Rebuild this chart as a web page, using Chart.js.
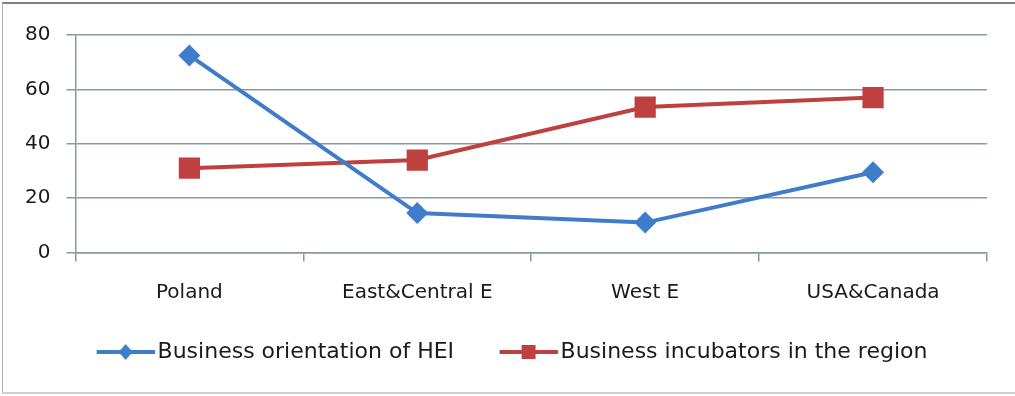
<!DOCTYPE html>
<html>
<head>
<meta charset="utf-8">
<script src="https://cdn.jsdelivr.net/npm/chart.js@4"></script>
<style>
  body { margin: 0; background: #fff; }
  #frame {
    position: absolute; left: 2px; top: 2px;
    width: 1012px; height: 388px;
    border-top: 2px solid #7f7f7f;
    border-left: 1px solid #b0b0b0;
    border-bottom: 2px solid #cfcfcf;
  }
</style>
</head>
<body>
<div id="frame"><canvas id="regionChart"></canvas></div>
<script>
const regions = ['Poland', 'East&Central E', 'West E', 'USA&Canada'];
const heiOrientation = [72.5, 14.5, 11, 29.5];
const incubators = [31, 34, 53.5, 57];
const yTicks = [0, 20, 40, 60, 80];

const blue = '#3f7dcb';
const red = '#c0403f';
const gridColor = '#8799a1';
const textColor = '#1a1a1a';
const fontFamily = '"DejaVu Sans", sans-serif';

// legend icon: line with the series marker in the middle,
// left part of the canvas stays empty to space the items apart
function legendIcon(color, marker) {
    const c = document.createElement('canvas');
    c.width = 94; c.height = 20;
    const ctx = c.getContext('2d');
    ctx.strokeStyle = color;
    ctx.fillStyle = color;
    ctx.lineWidth = 4;
    ctx.beginPath();
    ctx.moveTo(36, 10);
    ctx.lineTo(94, 10);
    ctx.stroke();
    const cx = 65;
    if (marker == 'diamond') {
        ctx.beginPath();
        ctx.moveTo(cx, 2);
        ctx.lineTo(cx + 7, 10);
        ctx.lineTo(cx, 18);
        ctx.lineTo(cx - 7, 10);
        ctx.closePath();
        ctx.fill();
    } else {
        ctx.fillRect(cx - 7, 3, 14, 14);
    }
    return c;
}
const icons = [legendIcon(blue, 'diamond'), legendIcon(red, 'square')];

new Chart(document.getElementById('regionChart'), {
    type: 'line',
    data: {
        labels: regions,
        datasets: [{
            label: 'Business orientation of HEI',
            data: heiOrientation,
            borderColor: blue,
            backgroundColor: blue,
            borderWidth: 4,
            pointStyle: 'rectRot',
            pointRadius: 11,
            pointHoverRadius: 11,
            pointBorderWidth: 0,
            tension: 0
        }, {
            label: 'Business incubators in the region',
            data: incubators,
            borderColor: red,
            backgroundColor: red,
            borderWidth: 4,
            pointStyle: 'rect',
            pointRadius: 15,
            pointHoverRadius: 15,
            pointBorderWidth: 0,
            tension: 0
        }]
    },
    options: {
        responsive: true,
        maintainAspectRatio: false,
        animation: false,
        layout: { padding: { top: 31, left: 6, right: 28, bottom: 19 } },
        scales: {
            x: {
                offset: true,
                grid: { offset: true, drawOnChartArea: false, drawTicks: true, tickLength: 9, color: gridColor, lineWidth: 1.5 },
                border: { display: true, color: gridColor, width: 1.5 },
                ticks: { color: textColor, font: { family: fontFamily, size: 20 }, padding: 19, maxRotation: 0 }
            },
            y: {
                min: 0,
                max: 80,
                afterBuildTicks: function(axis) {
                    axis.ticks = yTicks.map(v => ({ value: v }));
                },
                grid: { color: gridColor, lineWidth: 1.5, tickLength: 9 },
                border: { display: true, color: gridColor, width: 1.5 },
                ticks: { color: textColor, font: { family: fontFamily, size: 20 }, padding: 16 }
            }
        },
        plugins: {
            tooltip: { enabled: false },
            legend: {
                position: 'bottom',
                labels: {
                    usePointStyle: true,
                    pointStyleWidth: 78,
                    padding: 17.5,
                    color: textColor,
                    font: { family: fontFamily, size: 22 },
                    generateLabels: function(chart) {
                        const items = Chart.defaults.plugins.legend.labels.generateLabels(chart);
                        items.forEach((item, i) => { item.pointStyle = icons[i]; });
                        return items;
                    }
                }
            }
        }
    }
});
</script>
</body>
</html>
